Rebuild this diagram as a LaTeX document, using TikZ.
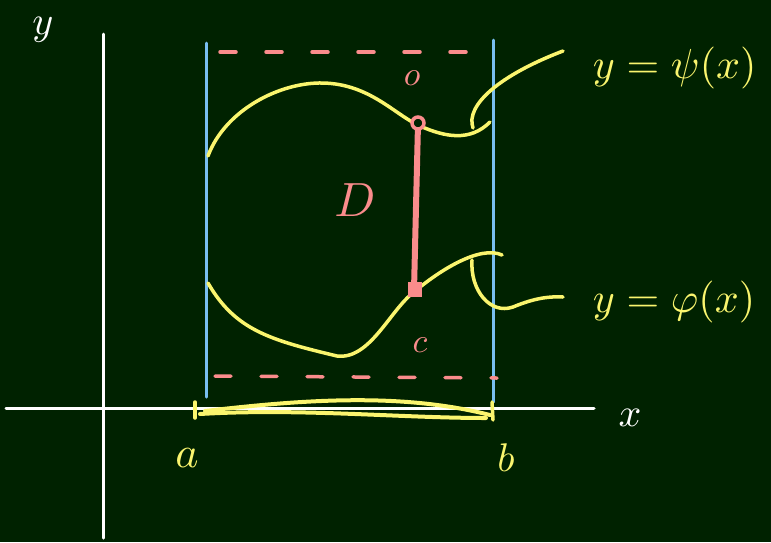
\documentclass[tikz,border=0pt]{standalone}
\usepackage{tikz}
\definecolor{board}{RGB}{0,34,0}
\definecolor{chalkyellow}{RGB}{250,245,110}
\definecolor{chalkpink}{RGB}{250,140,140}
\definecolor{chalkblue}{RGB}{120,190,240}
\tikzset{
  axisline/.style={white, line width=3pt, line cap=round},
  bound/.style={chalkblue, line width=3pt, line cap=round},
  curve/.style={chalkyellow, line width=3.5pt, line cap=round},
  level/.style={chalkpink, line width=3.5pt, line cap=round, dash pattern=on 16pt off 30pt},
  chalk/.style={inner sep=0pt, scale=4}
}
\begin{document}
\begin{tikzpicture}[x=1pt, y=-1pt]
\fill[board] (0,0) rectangle (771,542);
\useasboundingbox (0,0) rectangle (771,542);

% Axes
\draw[axisline] (6,408) -- (594,408);
\draw[axisline] (103,34) -- (103,538);
\node[chalk, white] (ylab) at (43,30) {$y$};
\node[chalk, white] (xlab) at (630,418) {$x$};

% Define bounds
\def\xa{206}
\def\xb{493}

% Vertical lines x=a, x=b
\draw[bound] (\xa,43) -- (\xa,397);
\draw[bound] (\xb,40) -- (\xb,402);

% Dashed lines y=c, y=d
\draw[level] (220,52) -- (490,52);
\draw[level] (215,376) -- (497,378);

% Upper curve psi
\draw[curve] (208,156) .. controls (225,110) and (280,82) .. (323,83)
  .. controls (370,84) and (395,115) .. (420,126)
  .. controls (445,137) and (470,142) .. (490,122);

% Lower curve phi
\draw[curve] (208,283) .. controls (235,330) and (270,340) .. (337,356)
  .. controls (370,360) and (390,310) .. (414,292)
  .. controls (440,270) and (480,245) .. (502,255);

% Leaders to the labels
\draw[curve] (473,128) .. controls (465,105) and (500,75) .. (563,51);
\draw[curve] (472,260) .. controls (470,290) and (490,315) .. (513,307)
  .. controls (530,300) and (545,296) .. (563,297);

% Section segment
\draw[chalkpink, line width=6pt, line cap=round] (418,124) -- (414,290);
\draw[chalkpink, line width=3.5pt, fill=board] (418,123) circle (6);
\fill[chalkpink] (408,282) rectangle (422,297);
\node[chalk, chalkpink, scale=1.2] (Dlab) at (355,200) {$D$};
\node[chalk, chalkpink, scale=0.85] (dlab) at (412,78) {$o$};
\node[chalk, chalkpink, scale=0.85] (clab) at (420,345) {$c$};

% Interval [a,b] on the x-axis
\draw[curve, line width=3.5pt] (195,402) -- (195,418);
\draw[curve, line width=3.5pt] (492,402) -- (493,420);
\draw[curve, line width=4pt] (205,411) .. controls (300,400) and (400,392) .. (490,415);
\draw[curve, line width=4pt] (200,414) .. controls (300,408) and (400,418) .. (486,418);
\node[chalk, chalkyellow, scale=1.1] (alab) at (187,458) {$a$};
\node[chalk, chalkyellow] (blab) at (506,458) {$b$};

% Curve names
\node[chalk, chalkyellow, anchor=west, scale=1.05] (psilab) at (592,68) {$y=\psi(x)$};
\node[chalk, chalkyellow, anchor=west, scale=1.05] (philab) at (592,302) {$y=\varphi(x)$};
\end{tikzpicture}
\end{document}
